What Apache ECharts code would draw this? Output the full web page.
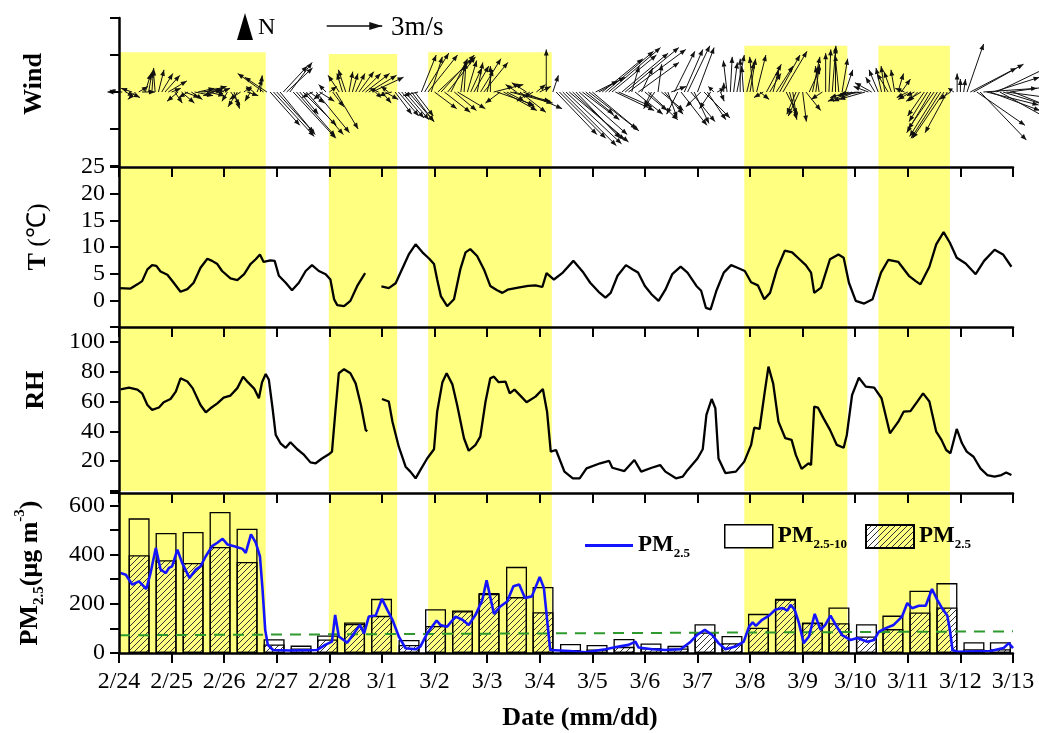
<!DOCTYPE html>
<html><head><meta charset="utf-8">
<script src="https://cdn.jsdelivr.net/npm/echarts@6/dist/echarts.min.js"></script>
<style>html,body{margin:0;padding:0;background:#fff}#c{width:1039px;height:733px}</style>
</head><body><div id="c"></div><script>
// ---------- data (days since 2/24 00:00) ----------
const dateLabels = ['2/24','2/25','2/26','2/27','2/28','3/1','3/2','3/3','3/4','3/5','3/6','3/7','3/8','3/9','3/10','3/11','3/12','3/13'];
const bands = [[0,2.79],[3.99,5.29],[5.88,8.23],[11.89,13.85],[14.44,15.80]];
const bandTopWind = [2.15,2.05,2.15,2.5,2.5];

const temperature = [[0.0,2.3],[0.22,2.2],[0.35,3.0],[0.44,3.6],[0.54,5.8],[0.63,6.6],[0.71,6.45],[0.79,5.4],[0.92,4.8],[1.04,3.3],[1.17,1.6],[1.3,2.1],[1.42,3.3],[1.55,6.1],[1.68,7.8],[1.77,7.4],[1.87,6.8],[1.96,5.5],[2.12,4.1],[2.25,3.8],[2.38,4.9],[2.5,6.8],[2.6,7.7],[2.68,8.6],[2.75,7.2],[2.88,7.5],[2.96,7.4],[3.04,4.6],[3.17,3.3],[3.29,1.9],[3.42,3.3],[3.55,5.5],[3.67,6.6],[3.8,5.5],[3.93,4.9],[4.02,3.9],[4.09,0.2],[4.15,-0.9],[4.28,-1.1],[4.4,-0.1],[4.53,2.7],[4.68,5.1],[4.8,null],[4.99,2.6],[5.13,2.3],[5.26,3.2],[5.38,5.8],[5.51,8.6],[5.64,10.5],[5.77,9.0],[5.9,7.8],[5.99,6.8],[6.05,3.9],[6.12,0.8],[6.24,-1.1],[6.37,0.2],[6.49,5.8],[6.59,9.0],[6.68,9.6],[6.81,8.3],[6.94,5.8],[7.06,2.7],[7.19,1.9],[7.29,1.4],[7.39,2.0],[7.59,2.4],[7.78,2.7],[7.92,2.8],[8.05,2.5],[8.13,5.1],[8.27,3.9],[8.44,5.2],[8.64,7.4],[8.83,5.2],[8.96,3.3],[9.12,1.6],[9.25,0.5],[9.35,1.4],[9.48,4.6],[9.64,6.6],[9.77,5.8],[9.87,5.2],[10.0,2.7],[10.13,1.1],[10.26,-0.1],[10.39,2.0],[10.52,4.9],[10.68,6.3],[10.81,5.2],[10.98,2.7],[11.07,1.8],[11.16,-1.4],[11.25,-1.7],[11.36,1.8],[11.5,5.2],[11.64,6.6],[11.76,6.1],[11.9,5.5],[12.02,3.4],[12.15,2.8],[12.27,0.2],[12.38,1.4],[12.51,5.8],[12.66,9.3],[12.8,9.0],[12.93,7.8],[13.06,6.6],[13.16,5.2],[13.22,1.4],[13.35,2.4],[13.52,7.7],[13.68,8.6],[13.78,8.0],[13.88,3.3],[14.01,-0.1],[14.17,-0.6],[14.33,0.2],[14.49,5.2],[14.63,7.6],[14.82,7.2],[15.02,4.6],[15.15,3.6],[15.24,3.0],[15.41,6.3],[15.54,10.5],[15.68,12.8],[15.8,10.8],[15.93,8.0],[16.1,6.9],[16.29,4.9],[16.45,7.4],[16.65,9.5],[16.81,8.6],[16.97,6.3]];

const humidity = [[0.03,68.2],[0.19,69.3],[0.35,68],[0.44,65.5],[0.54,57.7],[0.63,54.4],[0.76,56],[0.85,59.5],[0.98,61.7],[1.08,66.7],[1.17,75.6],[1.3,73.4],[1.4,69],[1.55,57.7],[1.65,52.8],[1.74,55.5],[1.87,58.8],[1.99,62.6],[2.12,64],[2.25,69],[2.36,76.7],[2.45,73],[2.57,68.7],[2.66,62.2],[2.72,73],[2.79,78.5],[2.85,74.6],[2.92,55.5],[2.98,37.6],[3.07,32],[3.17,29],[3.26,32.7],[3.39,28],[3.52,24.2],[3.64,19.2],[3.74,18.6],[3.86,21.8],[3.99,24.6],[4.05,26.4],[4.12,55.5],[4.18,79],[4.28,81.7],[4.4,79],[4.5,72.2],[4.6,57.7],[4.69,41],[4.72,40],[4.85,null],[5.0,61.7],[5.13,60],[5.2,46.5],[5.32,29.7],[5.45,16.3],[5.54,13],[5.64,8.5],[5.73,14],[5.86,21.8],[5.99,28],[6.05,53.2],[6.15,73],[6.23,79],[6.34,71.5],[6.43,57.7],[6.56,35.4],[6.65,27],[6.78,31],[6.87,36.5],[6.97,60],[7.06,75.6],[7.13,76.7],[7.22,73],[7.35,73.4],[7.43,65.5],[7.52,68],[7.65,63.3],[7.75,59.5],[7.92,63.3],[8.06,68.4],[8.14,53.2],[8.21,26.4],[8.31,27.5],[8.47,13],[8.63,8.5],[8.76,8.5],[8.89,15.2],[9.15,18.6],[9.32,20.2],[9.38,15.6],[9.61,13.4],[9.8,20.8],[9.93,13],[10.13,15.6],[10.29,17.4],[10.39,13],[10.59,8.5],[10.72,9.6],[10.81,14],[11.0,21.8],[11.1,28],[11.17,51],[11.27,61.7],[11.34,55.5],[11.4,21.8],[11.53,12],[11.73,13],[11.89,19.7],[12.02,30.9],[12.08,42.5],[12.18,41.6],[12.28,66.7],[12.35,83.4],[12.44,72],[12.54,46.5],[12.67,35.4],[12.79,34.3],[12.87,24.2],[12.98,14.8],[13.11,18.6],[13.16,17.4],[13.22,56.6],[13.29,56],[13.39,49.2],[13.52,41],[13.65,30.9],[13.78,29],[13.84,37.6],[13.94,64.4],[14.07,76],[14.2,70],[14.36,69.3],[14.5,62.2],[14.66,38.7],[14.82,46.5],[14.92,53.2],[15.05,53.6],[15.18,60],[15.29,65.5],[15.41,60],[15.54,39.8],[15.64,34.3],[15.73,27.5],[15.81,25.3],[15.93,41.6],[16.03,32],[16.12,26.4],[16.25,23],[16.38,15.2],[16.51,10.7],[16.65,9.6],[16.78,10.7],[16.87,12.4],[16.97,10.7]];

const pm25Hourly = [[0.03,325],[0.13,318],[0.25,278],[0.38,291],[0.52,260],[0.6,325],[0.7,427],[0.79,339],[0.89,325],[0.95,346],[1.01,352],[1.11,420],[1.2,366],[1.34,305],[1.46,339],[1.55,352],[1.65,393],[1.77,434],[1.87,448],[1.97,464],[2.06,441],[2.19,434],[2.35,423],[2.41,407],[2.51,482],[2.6,448],[2.68,393],[2.73,257],[2.78,94],[2.83,33],[2.93,12],[3.25,10],[3.76,12],[3.92,33],[4.05,46],[4.11,155],[4.18,67],[4.34,42],[4.47,80],[4.58,114],[4.66,80],[4.75,148],[4.88,152],[5.0,220],[5.1,176],[5.2,135],[5.32,67],[5.45,19],[5.64,15],[5.73,26],[5.86,80],[6.04,132],[6.11,114],[6.24,107],[6.4,148],[6.53,135],[6.65,114],[6.78,155],[6.91,216],[6.99,295],[7.13,159],[7.25,189],[7.38,209],[7.5,271],[7.61,278],[7.72,223],[7.85,230],[8.0,309],[8.08,264],[8.16,94],[8.2,12],[8.57,8],[8.87,3],[9.25,15],[9.5,26],[9.69,33],[9.82,46],[9.88,22],[10.14,15],[10.39,12],[10.68,15],[10.87,46],[10.99,73],[11.14,94],[11.28,73],[11.4,40],[11.53,15],[11.72,26],[11.88,46],[11.98,107],[12.05,124],[12.11,110],[12.23,135],[12.36,152],[12.48,176],[12.61,183],[12.71,172],[12.77,196],[12.85,175],[12.93,121],[13.02,40],[13.12,67],[13.23,159],[13.34,94],[13.43,114],[13.53,152],[13.63,114],[13.75,73],[13.91,53],[14.04,61],[14.23,46],[14.36,53],[14.45,87],[14.58,101],[14.73,114],[14.89,148],[14.99,203],[15.08,182],[15.21,192],[15.34,192],[15.46,260],[15.56,216],[15.65,182],[15.75,152],[15.8,94],[15.85,12],[15.94,5],[16.57,8],[16.82,20],[16.92,40],[17.0,20]];

const barTime   = [0.382,0.895,1.409,1.922,2.435,2.949,3.462,3.966,4.479,4.992,5.515,6.019,6.532,7.036,7.559,8.063,8.586,9.09,9.603,10.116,10.629,11.143,11.656,12.16,12.673,13.186,13.69,14.213,14.716,15.23,15.743,16.257,16.76];
const pm25Bar   = [397,377,366,431,370,35,18,55,118,151,33,110,170,240,227,166,12,14,25,20,18,83,40,103,218,122,121,67,97,165,185,15,15];
const pm2510Bar = [150,111,126,142,135,21,12,16,6,69,20,68,3,4,123,102,25,19,32,19,11,34,29,56,2,2,64,50,55,88,99,29,29];
const standardLine = [[0,72],[17,88]];

// wind: [day, u (m/s, east), v (m/s, north)] at 3-h marks
const wind = [[0,-0.5,0.1],[0.125,0.4,-0.2],[0.25,-0.6,0.2],[0.375,0.5,0.3],[0.5,0.3,1.0],[0.625,0.1,1.3],[0.75,0.3,1.2],[0.875,0.8,0.9],[1,0.5,0.2],[1.125,-0.6,-0.5],[1.25,0.8,-0.3],[1.375,0.6,-0.4],[1.5,0.9,0.2],[1.625,1.2,0.3],[1.75,0.6,0.1],[1.875,0.3,-0.1],[2,-0.4,0.2],[2.125,0.5,-0.7],[2.25,-0.5,-0.8],[2.375,0.4,0.3],[2.5,-0.3,-0.5],[2.625,0.3,0.7],[2.75,-1.4,1.0],[2.875,1.6,-1.8],[3,2.0,-2.2],[3.125,1.3,1.4],[3.25,1.2,1.6],[3.375,2.1,-2.4],[3.5,1.8,-1.8],[3.625,0.8,-0.6],[3.75,1.8,-2.2],[3.875,-0.5,-0.4],[4,0.4,0.3],[4.125,1.2,-2.0],[4.25,-0.3,1.0],[4.375,0.2,1.1],[4.5,0.5,1.0],[4.625,1.0,1.0],[4.75,1.5,0.9],[4.875,0.3,-0.3],[5,0.5,-0.6],[5.125,-0.4,0.3],[5.25,0.9,-1.2],[5.375,1.2,-1.4],[5.5,1.4,-1.6],[5.625,1.0,-1.3],[5.75,0.8,2.0],[5.875,1.6,2.0],[6,1.2,-0.9],[6.125,1.8,2.0],[6.25,1.5,1.9],[6.375,1.2,-1.0],[6.5,0.2,1.5],[6.625,0.5,1.7],[6.75,0.8,1.4],[6.875,1.1,1.8],[7,0.3,1.2],[7.125,1.6,0.4],[7.25,-0.8,-0.6],[7.375,1.5,-0.8],[7.5,2.0,-0.5],[7.625,1.4,-1.1],[7.75,-0.8,0.5],[7.875,-0.5,-0.3],[8,0.6,0.3],[8.125,0.0,2.3],[8.25,0.3,0.9],[8.375,2.5,-2.5],[8.5,3.0,-2.8],[8.625,2.8,-2.6],[8.75,2.6,-2.3],[8.875,1.5,-1.2],[9,2.4,-2.0],[9.125,1.4,0.8],[9.25,2.6,2.2],[9.375,2.4,2.0],[9.5,1.8,-0.8],[9.625,2.9,2.4],[9.75,0.4,1.4],[9.875,2.2,1.6],[10,1.2,-1.0],[10.125,-0.4,-0.8],[10.25,0.2,1.5],[10.375,1.0,-1.2],[10.5,0.8,0.3],[10.625,-0.6,-1.2],[10.75,1.0,2.3],[10.875,1.3,-1.6],[11,0.9,2.4],[11.125,1.4,-1.4],[11.25,-0.6,-0.9],[11.375,0.4,0.2],[11.5,0.0,0.5],[11.625,0.1,1.9],[11.75,0.4,2.0],[11.875,-0.1,1.4],[12,0.3,1.8],[12.125,0.5,2.0],[12.25,-0.5,-0.3],[12.375,0.6,1.0],[12.5,0.9,1.4],[12.625,1.3,2.2],[12.75,0.4,-1.5],[12.875,-0.5,-1.2],[13,0.2,-1.6],[13.125,0.6,1.3],[13.25,0.2,1.5],[13.375,-0.6,-0.4],[13.5,0.1,2.3],[13.625,0.0,2.4],[13.75,0.3,1.8],[13.875,-1.0,-0.3],[14,-1.2,-0.5],[14.125,-1.3,-0.2],[14.25,-0.8,0.3],[14.375,-0.5,0.8],[14.5,-0.3,1.3],[14.625,-0.6,1.0],[14.75,-0.2,1.2],[14.875,0.5,0.7],[15,-0.6,-0.3],[15.125,-0.4,-0.2],[15.25,-0.8,-0.5],[15.375,-1.0,-1.6],[15.5,-1.4,-2.0],[15.625,-1.6,-2.5],[15.75,-1.2,-2.2],[15.875,-0.3,0.2],[16,0.0,0.7],[16.125,0.9,2.6],[16.25,2.7,1.5],[16.375,2.5,-2.6],[16.5,2.8,-0.7],[16.625,2.5,0.8],[16.75,2.7,-1.5],[16.875,3.0,-0.4],[17,2.5,-1.0]];
// wind readings between the 3-h marks
const windMid = [[0.0625,-0.8,0.0],[0.1875,0.6,-0.3],[0.3125,-0.4,-0.4],[0.4375,0.7,0.0],[0.5625,0.2,1.1],[0.6875,-0.1,1.2],[0.8125,0.6,1.0],[0.9375,1.0,0.6],[1.0625,0.4,-0.6],[1.1875,0.7,-0.6],[1.3125,-0.5,-0.3],[1.4375,1.0,-0.2],[1.5625,1.1,0.1],[1.6875,0.9,-0.2],[1.8125,-0.6,-0.2],[1.9375,0.5,0.2],[2.0625,-0.3,-0.5],[2.1875,0.3,-0.9],[2.3125,-0.6,-0.4],[2.4375,0.6,-0.2],[2.5625,-0.4,0.3],[2.6875,0.1,0.9],[2.8125,-1.2,0.8],[2.9375,2.2,-2.4],[3.0625,1.9,-2.3],[3.1875,1.4,1.3],[3.3125,2.3,-2.5],[3.4375,1.0,-1.2],[3.5625,2.0,-2.3],[3.6875,-0.6,-0.3],[3.8125,0.8,-0.5],[3.9375,-0.4,0.4],[4.0625,0.6,-0.8],[4.1875,-0.6,0.9],[4.3125,-0.4,1.2],[4.4375,0.3,1.0],[4.5625,0.8,1.1],[4.6875,1.3,1.0],[4.8125,1.7,0.8],[4.9375,-0.5,0.2],[5.0625,0.7,-0.4],[5.1875,-0.7,-0.2],[5.3125,1.1,-1.3],[5.4375,1.3,-1.5],[5.5625,1.2,-1.6],[5.6875,-0.8,-0.2],[5.8125,1.3,2.1],[5.9375,0.6,1.9],[6.0625,1.9,1.8],[6.1875,1.4,-1.1],[6.3125,0.9,1.8],[6.4375,1.5,-0.9],[6.5625,0.1,1.6],[6.6875,0.6,1.3],[6.8125,0.3,1.6],[6.9375,1.3,1.6],[7.0625,0.0,1.4],[7.1875,2.0,-0.7],[7.3125,1.8,-1.0],[7.4375,2.3,-0.6],[7.5625,-0.6,0.4],[7.6875,2.1,-0.9],[7.8125,-0.7,-0.5],[7.9375,0.5,0.4],[8.3125,2.2,-2.3],[8.4375,2.9,-2.9],[8.5625,3.2,-2.7],[8.6875,2.4,-2.5],[8.8125,2.0,-1.5],[8.9375,2.7,-2.1],[9.0625,1.2,0.6],[9.1875,2.2,1.8],[9.3125,2.8,2.4],[9.4375,2.1,-1.0],[9.5625,2.5,2.1],[9.6875,3.1,2.3],[9.8125,1.5,-1.2],[9.9375,0.6,1.3],[10.0625,1.6,-1.5],[10.1875,-0.6,-0.9],[10.3125,1.2,-1.0],[10.4375,0.5,-1.4],[10.5625,1.1,2.2],[10.6875,1.4,-1.8],[10.8125,1.2,2.5],[10.9375,0.8,-1.7],[11.0625,-0.8,-0.8],[11.1875,1.0,-1.5],[11.3125,-0.3,0.3],[11.4375,0.2,-0.5],[11.5625,-0.2,1.7],[11.6875,0.2,1.6],[11.8125,0.0,1.8],[11.9375,0.4,1.6],[12.0625,-0.2,1.9],[12.1875,0.5,-0.4],[12.3125,0.8,1.5],[12.4375,0.3,1.2],[12.5625,1.1,2.0],[12.6875,0.6,-1.2],[12.8125,0.2,-1.4],[12.9375,-0.6,-1.3],[13.0625,0.8,-1.0],[13.1875,0.4,1.9],[13.3125,-0.2,1.4],[13.4375,0.0,2.1],[13.5625,0.2,2.5],[13.6875,-0.2,2.0],[13.8125,0.4,1.2],[13.9375,-1.3,-0.5],[14.0625,-1.0,-0.1],[14.1875,-1.4,-0.4],[14.3125,-0.9,0.5],[14.4375,-0.5,1.2],[14.5625,-0.2,1.4],[14.6875,-0.4,1.1],[14.8125,0.3,1.0],[14.9375,-0.5,0.2],[15.0625,-0.7,-0.4],[15.1875,-0.5,-0.5],[15.3125,-0.9,-1.3],[15.4375,-1.3,-2.2],[15.5625,-1.5,-2.4],[15.6875,-1.7,-2.5],[15.8125,-0.6,-0.4],[15.9375,0.0,1.0],[16.0625,0.1,0.7],[16.1875,2.5,1.3],[16.3125,2.6,-1.8],[16.4375,2.9,0.2],[16.5625,2.7,-1.0],[16.6875,2.9,1.4],[16.8125,2.6,-0.8],[16.9375,2.9,0.4]];
const windScaleRef = [[3.95, 3.57, 3, 0]]; // reference arrow: 3 m/s eastward

// ---------- helpers ----------
const SERIF = '"Liberation Serif","Times New Roman",serif';
function hatch() {
  const c = document.createElement('canvas'); c.width = 6; c.height = 6;
  const g = c.getContext('2d');
  g.strokeStyle = '#333'; g.lineWidth = 1;
  g.beginPath();
  g.moveTo(0,6); g.lineTo(6,0);
  g.moveTo(-1,1); g.lineTo(1,-1);
  g.moveTo(5,7); g.lineTo(7,5);
  g.stroke();
  return {image: c, repeat: 'repeat'};
}
function arrowHead(x0,y0,x1,y1,hl,hw){
  const dx=x1-x0, dy=y1-y0, L=Math.hypot(dx,dy)||1, ux=dx/L, uy=dy/L;
  const h=Math.min(hl, L*0.6), bx=x1-ux*h, by=y1-uy*h;
  return [[x1,y1],[bx-uy*hw,by+ux*hw],[bx+uy*hw,by-ux*hw]];
}
function arrowRender(lw, hl, hw){
  return function(params, api){
    const o = api.coord([api.value(0), api.value(1)]);
    const k = api.size([0,1])[1];
    const x1 = o[0] + api.value(2)*k, y1 = o[1] - api.value(3)*k;
    return {type:'group', children:[
      {type:'line', shape:{x1:o[0],y1:o[1],x2:x1,y2:y1}, style:{stroke:'#111', lineWidth:lw}},
      {type:'polygon', shape:{points: arrowHead(o[0],o[1],x1,y1,hl,hw)}, style:{fill:'#111'}}
    ]};
  };
}
const yellow = '#ffff80';
const fullBands = bands.map(b => [{xAxis:b[0]},{xAxis:b[1]}]);
const windBands = bands.map((b,i) => [{xAxis:b[0], yAxis:-4},{xAxis:b[1], yAxis:bandTopWind[i]}]);

const grids = [
  {left:119, top:18, width:894, height:148},
  {left:119, top:167, width:894, height:160},
  {left:119, top:327, width:894, height:164},
  {left:119, top:493, width:894, height:160}
].map(g => Object.assign({outerBoundsMode:'none', containLabel:false}, g));

const topAxis = gi => ({
  type:'value', gridIndex:gi, position:'top', min:0, max:17, interval:1, z:10,
  axisLine:{show:true, onZero:false, lineStyle:{color:'#000', width:2.5}},
  axisTick:{show:true, inside:true, length:10, lineStyle:{color:'#000', width:2}},
  axisLabel:{show:false}, splitLine:{show:false}
});
const yBase = {
  type:'value', z:10,
  axisLine:{show:true, onZero:false, lineStyle:{color:'#000', width:2.5}},
  axisTick:{show:true, inside:false, length:9, lineStyle:{color:'#000', width:2}},
  splitLine:{show:false},
  nameLocation:'middle', nameRotate:90,
  axisLabel:{color:'#000', fontFamily:SERIF, fontSize:24, margin:14}
};
const richName = {
  m:{fontFamily:SERIF, fontSize:26, fontWeight:'bold', color:'#000', lineHeight:34, verticalAlign:'middle'},
  n:{fontFamily:SERIF, fontSize:26, fontWeight:'normal', color:'#000', lineHeight:34, verticalAlign:'middle'},
  s:{fontFamily:SERIF, fontSize:15, fontWeight:'bold', color:'#000', lineHeight:15, verticalAlign:'bottom'},
  p:{fontFamily:SERIF, fontSize:15, fontWeight:'bold', color:'#000', lineHeight:15, verticalAlign:'top'}
};
const legendText = {
  fontFamily:SERIF, fontSize:22, fontWeight:'bold', color:'#000',
  rich:{
    m:{fontFamily:SERIF, fontSize:23, fontWeight:'bold', color:'#000', lineHeight:30, verticalAlign:'middle'},
    s:{fontFamily:SERIF, fontSize:13, fontWeight:'bold', color:'#000', lineHeight:13, verticalAlign:'bottom'}
  }
};
const legendNames = {'PM2.5 line':'{m|PM}{s|2.5}', 'PM2.5-10':'{m|PM}{s|2.5-10}', 'PM2.5 bar':'{m|PM}{s|2.5}'};
const legendBase = {orient:'horizontal', top:519, itemWidth:48, itemHeight:23, itemGap:10, selectedMode:false,
  formatter: n => legendNames[n], textStyle: legendText};

const hatchFill = hatch();

const option = {
  animation:false,
  backgroundColor:'#fff',
  grid: grids,
  xAxis: [
    {type:'value', gridIndex:0, min:0, max:17, interval:1, show:false},
    topAxis(1), topAxis(2), topAxis(3),
    {type:'value', gridIndex:3, position:'bottom', min:0, max:17, interval:1, z:10,
      axisLine:{show:true, onZero:false, lineStyle:{color:'#000', width:2.5}},
      axisTick:{show:true, inside:false, length:10, lineStyle:{color:'#000', width:2}},
      axisLabel:{color:'#000', fontFamily:SERIF, fontSize:24, margin:17, formatter: v => dateLabels[Math.round(v)]},
      splitLine:{show:false},
      name:'Date (mm/dd)', nameLocation:'middle', nameGap:52,
      nameTextStyle:{fontFamily:SERIF, fontSize:26, fontWeight:'bold', color:'#000', padding:[0,0,0,28]}}
  ],
  yAxis: [
    Object.assign({}, yBase, {gridIndex:0, min:-4, max:4, interval:2, axisLabel:{show:false},
      name:'Wind', nameGap:72, nameTextStyle:{fontFamily:SERIF, fontSize:26, fontWeight:'bold', color:'#000', padding:[0,0,0,16]}}),
    Object.assign({}, yBase, {gridIndex:1, min:-5, max:25, interval:5,
      axisLabel:Object.assign({}, yBase.axisLabel, {formatter: v => v < 0 ? '' : String(v)}),
      name:'{m|T }{n|(℃)}', nameGap:64, nameTextStyle:{rich:richName, padding:[0,0,0,20]}}),
    Object.assign({}, yBase, {gridIndex:2, min:0, max:110, interval:20,
      axisLabel:Object.assign({}, yBase.axisLabel, {formatter: v => (v === 0 || v > 100) ? '' : String(v)}),
      name:'RH', nameGap:70, nameTextStyle:{fontFamily:SERIF, fontSize:26, fontWeight:'bold', color:'#000', padding:[0,0,0,38]}}),
    Object.assign({}, yBase, {gridIndex:3, min:0, max:650, interval:100,
      axisLabel:Object.assign({}, yBase.axisLabel, {formatter: v => (v % 200 === 0) ? String(v) : ''}),
      name:'{m|PM}{s|2.5}{m|(μg m}{p|-3}{m|)}', nameGap:72, nameTextStyle:{rich:richName}})
  ],
  legend: [
    Object.assign({}, legendBase, {left:580, itemHeight:3, top:529, data:[{name:'PM2.5 line', icon:'rect', itemStyle:{color:'#1414ff'}}],
      textStyle:Object.assign({}, legendText, {padding:[0,0,0,0]})}),
    Object.assign({}, legendBase, {left:719, data:[{name:'PM2.5-10', icon:'rect', itemStyle:{color:'#fff', borderColor:'#000', borderWidth:1.5}}]}),
    Object.assign({}, legendBase, {left:860, data:[{name:'PM2.5 bar', icon:'rect'}]})
  ],
  graphic: [
    {type:'polygon', shape:{points:[[245,13],[237,40],[253,40]]}, style:{fill:'#000'}},
    {type:'text', x:258, y:28, style:{text:'N', font:'24px ' + SERIF, fill:'#000', verticalAlign:'middle'}},
    {type:'text', x:391, y:28, style:{text:'3m/s', font:'27px ' + SERIF, fill:'#000', verticalAlign:'middle'}}
  ],
  series: [
    {type:'custom', name:'wind', xAxisIndex:0, yAxisIndex:0, clip:false,
      data: wind.concat(windMid).map(w => [w[0], 0, w[1], w[2]]), encode:{x:0, y:1},
      renderItem: arrowRender(1, 6, 2.4),
      markArea:{silent:true, itemStyle:{color:yellow}, data: windBands}},
    {type:'custom', name:'scale', xAxisIndex:0, yAxisIndex:0, clip:false,
      data: windScaleRef, encode:{x:0, y:1},
      renderItem: arrowRender(1.6, 13, 4)},
    {type:'line', name:'T', xAxisIndex:1, yAxisIndex:1, data: temperature, showSymbol:false, symbol:'none',
      connectNulls:false, lineStyle:{color:'#000', width:2.3},
      markArea:{silent:true, itemStyle:{color:yellow}, data: fullBands}},
    {type:'line', name:'RH', xAxisIndex:2, yAxisIndex:2, data: humidity, showSymbol:false, symbol:'none',
      connectNulls:false, lineStyle:{color:'#000', width:2.3},
      markArea:{silent:true, itemStyle:{color:yellow}, data: fullBands}},
    // PM10 box (PM2.5 + PM2.5-10), drawn behind the hatched PM2.5 bar
    {type:'bar', name:'PM2.5-10', xAxisIndex:4, yAxisIndex:3, barWidth:21, barGap:'-100%',
      data: barTime.map((t,i) => [t, pm25Bar[i] + pm2510Bar[i]]),
      itemStyle:{color:'rgba(255,255,255,0)', borderColor:'#000', borderWidth:1.3},
      markArea:{silent:true, itemStyle:{color:yellow}, data: fullBands}},
    {type:'bar', name:'PM2.5 bar', xAxisIndex:4, yAxisIndex:3, barWidth:21, barGap:'-100%',
      data: barTime.map((t,i) => [t, pm25Bar[i]]),
      itemStyle:{color: hatchFill, borderColor:'#000', borderWidth:1.3}},
    {type:'line', name:'standard', xAxisIndex:4, yAxisIndex:3, data: standardLine, showSymbol:false, symbol:'none',
      lineStyle:{color:'#2e9a2e', width:2, type:[11,8]}},
    {type:'line', name:'PM2.5 line', xAxisIndex:4, yAxisIndex:3, data: pm25Hourly, showSymbol:false, symbol:'none',
      lineStyle:{color:'#1414ff', width:2.6}, itemStyle:{color:'#1414ff'}}
  ]
};
const chart = echarts.init(document.getElementById('c'), null, {renderer:'canvas'});
chart.setOption(option);
</script></body></html>
